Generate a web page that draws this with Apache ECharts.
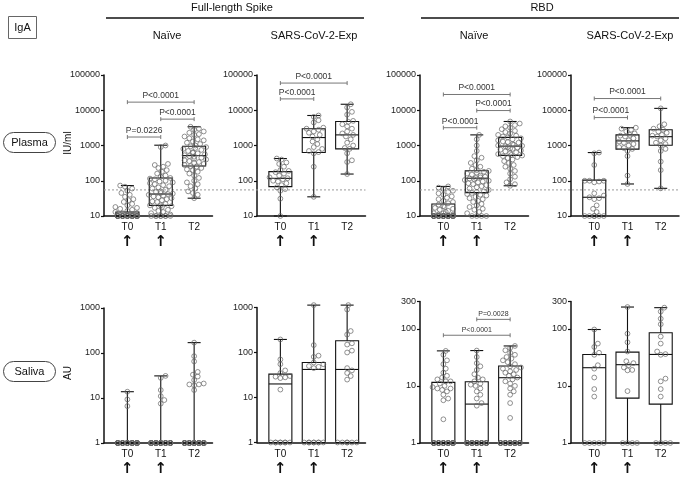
<!DOCTYPE html>
<html><head><meta charset="utf-8">
<script src="https://cdn.jsdelivr.net/npm/echarts@6/dist/echarts.min.js"></script>
<style>html,body{margin:0;padding:0;background:#fff}#c{width:682px;height:477px}</style>
</head><body><div id="c"></div>
<script>
const FONT = 'Liberation Sans, Arial, sans-serif';

// ---- labels ----
const timepoints = ['T0', 'T1', 'T2'];
const doseAt = [true, true, false];
const antigens = ['Full-length Spike', 'RBD'];
const cohorts = ['Naïve', 'SARS-CoV-2-Exp'];
const compartments = ['Plasma', 'Saliva'];
const units = ['IU/ml', 'AU'];
const isotype = 'IgA';
const plasmaCutoff = 55;

// ---- Plasma, Full-length Spike, Naive ----
const plSpikeNaiveT0 = [73,68,60,52,45,40,35,30,28,25,22,20,18,17,16,15,14,13,12,12,11,11,10,10,10,10,10,10,10,10,10,10,10,10,10,10,10,10,10,10,10,10,10,10,10,10,10,10,10,10,10,10];
const plSpikeNaiveT1 = [1000,900,300,280,250,230,200,180,160,140,130,120,115,110,100,95,90,85,80,75,70,65,60,55,50,48,45,43,42,40,38,36,34,32,30,28,26,25,22,20,20,19,18,17,15,14,13,12,11,10,10,10,10,10,10,10,10];
const plSpikeNaiveT2 = [3400,3000,2800,2500,2300,2100,2000,1800,1600,1500,1400,1300,1200,1100,1000,950,900,850,800,750,700,650,620,600,560,530,500,480,450,420,400,380,360,340,320,300,280,260,250,230,210,200,180,160,140,120,100,90,80,70,60,50,45,40,32];
const plSpikeNaiveBox = [[10,10,10,13,73],[10,20,42,120,1020],[32,263,516,950,3400]];
const plSpikeNaiveP = [[0,1,'P=0.0226'],[1,2,'P<0.0001'],[0,2,'P<0.0001']];

// ---- Plasma, Full-length Spike, Exp ----
const plSpikeExpT0 = [427,400,330,300,250,200,190,175,160,140,125,118,110,100,95,85,75,65,58,52,31,10];
const plSpikeExpT1 = [7100,6500,5200,4500,3200,3000,2800,2500,2300,2000,1800,1500,1300,1100,900,800,700,650,600,250,35];
const plSpikeExpT2 = [14800,12000,9000,7500,5000,4700,4000,3500,3000,2500,2200,2000,1800,1500,1200,1000,850,800,600,380,340,155];
const plSpikeExpBox = [[10,68,117,182,427],[35,630,1680,3000,7100],[155,800,2000,4800,14800]];
const plSpikeExpP = [[0,1,'P<0.0001'],[0,2,'P<0.0001']];

// ---- Plasma, RBD, Naive ----
const plRbdNaiveT0 = [69,64,58,52,48,44,40,36,33,30,27,25,23,21,19,18,17,16,15,14,13,12,12,11,11,10,10,10,10,10,10,10,10,10,10,10,10,10,10,10,10,10,10,10,10,10,10,10,10,10,10,10,10,10,10,10,10];
const plRbdNaiveT1 = [2000,1500,1000,700,500,450,380,320,280,250,220,200,190,180,170,160,150,140,130,125,120,115,110,105,100,95,90,85,80,75,70,65,60,55,50,48,45,42,40,38,35,32,30,27,25,22,20,18,16,15,13,12,10,10,10,10];
const plRbdNaiveT2 = [4800,4200,3800,3500,3200,2900,2600,2400,2200,2000,1900,1800,1700,1600,1500,1400,1300,1250,1200,1100,1050,1000,980,950,900,870,830,800,760,720,680,640,600,570,540,520,500,470,440,400,360,320,280,250,220,190,160,130,110,90,80,72];
const plRbdNaiveBox = [[10,10,10.5,22,69],[10,46,118,192,2000],[72,525,960,1700,4800]];
const plRbdNaiveP = [[0,1,'P<0.0001'],[1,2,'P<0.0001'],[0,2,'P<0.0001']];

// ---- Plasma, RBD, Exp ----
const plRbdExpT0 = [630,600,280,100,100,100,95,90,44,38,34,32,30,20,16,13,10,10,10,10,10,10];
const plRbdExpT1 = [3200,3000,2800,2500,2200,2000,1900,1800,1600,1400,1300,1200,1100,1000,900,850,800,700,500,140,81];
const plRbdExpT2 = [11300,4000,3500,3000,2800,2500,2300,2000,1900,1800,1600,1400,1200,1100,1000,800,700,350,200,61];
const plRbdExpBox = [[10,10,34,104,630],[81,790,1350,2000,3200],[61,1020,1780,2800,11300]];
const plRbdExpP = [[0,1,'P<0.0001'],[0,2,'P<0.0001']];

// ---- Saliva, Full-length Spike, Naive ----
const saSpikeNaiveT0 = [13.8,9.3,6.6,1,1,1,1,1,1,1,1,1,1,1,1,1,1,1,1,1,1,1,1,1,1,1,1,1,1,1,1,1,1,1,1,1,1,1,1,1,1,1,1];
const saSpikeNaiveT1 = [31,28,15,11,9,7.5,1,1,1,1,1,1,1,1,1,1,1,1,1,1,1,1,1,1,1,1,1,1,1,1,1,1,1,1,1,1,1,1,1,1,1,1,1,1,1,1];
const saSpikeNaiveT2 = [170,85,65,38,33,30,25,21,20,20,19,15,1,1,1,1,1,1,1,1,1,1,1,1,1,1,1,1,1,1,1,1,1,1,1,1,1,1,1,1,1,1,1,1,1,1,1,1,1,1,1,1];
const saSpikeNaiveBox = [[1,1,1,1,13.8],[1,1,1,1,31],[1,1,1,1,170]];
const saSpikeNaiveP = [];

// ---- Saliva, Full-length Spike, Exp ----
const saSpikeExpT0 = [195,70,55,40,35,30,29,28,27,15,1,1,1,1,1,1,1,1];
const saSpikeExpT1 = [1130,146,85,80,60,55,50,48,45,1,1,1,1,1,1,1,1];
const saSpikeExpT2 = [1130,900,300,250,160,150,110,100,45,40,35,30,25,1,1,1,1,1,1];
const saSpikeExpBox = [[1,1,20,33,195],[1,1,42,60,1130],[1,1,42,183,1130]];
const saSpikeExpP = [];

// ---- Saliva, RBD, Naive ----
const saRbdNaiveT0 = [41,35,28,24,20,17,15,14,13,12,12,11,10,9.5,9,9,8.5,8,7,6,5.6,2.6,1,1,1,1,1,1,1,1,1,1,1,1,1,1,1,1,1,1,1,1,1,1,1,1,1,1,1,1,1,1];
const saRbdNaiveT1 = [41.5,32,25,22,19,16,14,13,12,11,10.5,10,9,8,7,6,5,4.5,1,1,1,1,1,1,1,1,1,1,1,1,1,1,1,1,1,1,1,1,1,1,1,1,1,1,1,1,1,1];
const saRbdNaiveT2 = [50,46,42,38,35,32,30,28,26,24,22,21,20,19,18,17,16,15,14,13,12,11,10,9,8,7,5,2.75,1,1,1,1,1,1,1,1,1,1,1,1,1,1,1,1,1,1,1,1,1,1,1,1,1,1,1,1];
const saRbdNaiveBox = [[1,1,1,11.5,41],[1,1,4.8,11.8,41.5],[1,1,13.9,22.3,50]];
const saRbdNaiveP = [[1,2,'P=0.0028'],[0,2,'P<0.0001']];

// ---- Saliva, RBD, Exp ----
const saRbdExpT0 = [97,55,48,38,35,23,20,14,8.8,6.5,1,1,1,1,1];
const saRbdExpT1 = [240,82,58,40,27,25,23,21,19,18.7,8.1,1,1,1,1];
const saRbdExpT2 = [234,200,150,120,73,55,40,36,35,13.4,12,8.8,6.5,1,1,1,1];
const saRbdExpBox = [[1,1,20.8,35.5,97],[1,6.1,23.5,39,240],[1,4.8,35.5,85,234]];
const saRbdExpP = [];

// ---- panel wiring ----
const panelData = [
  {groups:[plSpikeNaiveT0, plSpikeNaiveT1, plSpikeNaiveT2], box:plSpikeNaiveBox, p:plSpikeNaiveP},
  {groups:[plSpikeExpT0, plSpikeExpT1, plSpikeExpT2], box:plSpikeExpBox, p:plSpikeExpP},
  {groups:[plRbdNaiveT0, plRbdNaiveT1, plRbdNaiveT2], box:plRbdNaiveBox, p:plRbdNaiveP},
  {groups:[plRbdExpT0, plRbdExpT1, plRbdExpT2], box:plRbdExpBox, p:plRbdExpP},
  {groups:[saSpikeNaiveT0, saSpikeNaiveT1, saSpikeNaiveT2], box:saSpikeNaiveBox, p:saSpikeNaiveP},
  {groups:[saSpikeExpT0, saSpikeExpT1, saSpikeExpT2], box:saSpikeExpBox, p:saSpikeExpP},
  {groups:[saRbdNaiveT0, saRbdNaiveT1, saRbdNaiveT2], box:saRbdNaiveBox, p:saRbdNaiveP},
  {groups:[saRbdExpT0, saRbdExpT1, saRbdExpT2], box:saRbdExpBox, p:saRbdExpP}
];

// ---- layout (positions / sizes) ----
const XMIN = -0.7, XMAX = 2.55, GW = 108.5;
const layout = [
  {left:104, top:75, height:141, ymin:10, ymax:100000, pLevels:[1740,5600,17000], pFont:8.5},
  {left:257, top:75, height:141, ymin:10, ymax:100000, pLevels:[21000,59000], pFont:8.5},
  {left:420, top:75, height:141, ymin:10, ymax:100000, pLevels:[3200,9800,28000], pFont:8.5},
  {left:571, top:75, height:141, ymin:10, ymax:100000, pLevels:[6200,21500], pFont:8.5},
  {left:104, top:308, height:135, ymin:1, ymax:1000, pLevels:[], pFont:8.5},
  {left:257, top:307.5, height:135, ymin:1, ymax:1000, pLevels:[], pFont:8.5},
  {left:420, top:301.5, height:141.5, ymin:1, ymax:300, pLevels:[146,77], pFont:7},
  {left:571, top:301.5, height:141.5, ymin:1, ymax:300, pLevels:[], pFont:7}
];

// deterministic beeswarm offsets (layout only)
function swarm(values, pxPerDecade, pxPerUnit, maxHalf) {
  const D = 4.6, step = 1.2;
  const placed = [];
  const out = new Array(values.length);
  const order = values.map((v, i) => i).sort((a, b) => values[a] - values[b]);
  const nSteps = Math.floor(maxHalf / step);
  for (const i of order) {
    const y = Math.log10(values[i]) * pxPerDecade;
    let best = 0, bestScore = Infinity;
    for (let k = 0; k <= 2 * nSteps; k++) {
      const off = (k % 2 ? 1 : -1) * Math.ceil(k / 2) * step;
      let c = 0;
      for (const p of placed) {
        const dx = p.x - off, dy = p.y - y;
        if (dx * dx + dy * dy < D * D) c++;
      }
      const score = c * 1000 + Math.abs(off);
      if (score < bestScore) { bestScore = score; best = off; }
      if (c === 0) break;
    }
    placed.push({x: best, y});
    out[i] = best / pxPerUnit;
  }
  return out;
}

const grids = [], xAxes = [], yAxes = [], series = [];
layout.forEach((L, pi) => {
  const pd = panelData[pi];
  grids.push({left: L.left, top: L.top, width: GW, height: L.height});
  xAxes.push({
    type: 'value', gridIndex: pi, min: XMIN, max: XMAX, interval: 0.05,
    axisLine: {show: true, onZero: false, lineStyle: {color: '#111', width: 1.5}},
    axisTick: {show: false}, splitLine: {show: false},
    axisLabel: {
      margin: 5, color: '#111', fontFamily: FONT, fontSize: 10,
      formatter: v => {
        const i = Math.round(v);
        if (Math.abs(v - i) > 1e-6 || i < 0 || i > 2) return '';
        return doseAt[i] ? '{t|' + timepoints[i] + '}\n{a|↑}' : '{t|' + timepoints[i] + '}';
      },
      rich: {
        t: {fontSize: 10, lineHeight: 13, fontFamily: FONT, color: '#111'},
        a: {fontSize: 15, lineHeight: 17, fontWeight: 'bold', fontFamily: 'DejaVu Sans', color: '#111'}
      }
    }
  });
  yAxes.push({
    type: 'log', logBase: 10, gridIndex: pi, min: L.ymin, max: L.ymax,
    axisLine: {show: true, onZero: false, lineStyle: {color: '#111', width: 1.5}},
    axisTick: {show: true, length: 3, lineStyle: {color: '#111', width: 1.2}},
    minorTick: {show: false}, splitLine: {show: false},
    axisLabel: {margin: 4, color: '#222', fontFamily: FONT, fontSize: 9, formatter: v => String(Math.round(v))}
  });
  const pxPerDecade = L.height / (Math.log10(L.ymax) - Math.log10(L.ymin));
  const pxPerUnit = GW / (XMAX - XMIN);
  // boxes
  series.push({
    type: 'custom', xAxisIndex: pi, yAxisIndex: pi, z: 2, silent: true,
    data: pd.box.map((b, i) => [i, b[0], b[1], b[2], b[3], b[4]]),
    encode: {x: 0, y: [1, 2, 3, 4, 5]},
    renderItem: (params, api) => {
      const x = api.value(0);
      const c = [1, 2, 3, 4, 5].map(d => api.coord([x, api.value(d)]));
      const cx = c[0][0], hw = 11.5, cw = 6.5;
      const st = {stroke: '#111', lineWidth: 1.1, fill: null};
      const ch = [
        {type: 'line', shape: {x1: cx, y1: c[0][1], x2: cx, y2: c[1][1]}, style: st},
        {type: 'line', shape: {x1: cx, y1: c[3][1], x2: cx, y2: c[4][1]}, style: st},
        {type: 'line', shape: {x1: cx - cw, y1: c[0][1], x2: cx + cw, y2: c[0][1]}, style: st},
        {type: 'line', shape: {x1: cx - cw, y1: c[4][1], x2: cx + cw, y2: c[4][1]}, style: st}
      ];
      if (c[1][1] - c[3][1] > 0.5) {
        ch.push({type: 'rect', shape: {x: cx - hw, y: c[3][1], width: 2 * hw, height: c[1][1] - c[3][1]},
                 style: {stroke: '#111', lineWidth: 1.1, fill: 'rgba(0,0,0,0)'}});
      }
      ch.push({type: 'line', shape: {x1: cx - hw, y1: c[2][1], x2: cx + hw, y2: c[2][1]}, style: st});
      return {type: 'group', children: ch};
    }
  });
  // points
  const pts = [];
  pd.groups.forEach((g, gi) => {
    const offs = swarm(g, pxPerDecade, pxPerUnit, 12);
    g.forEach((v, k) => pts.push([gi + offs[k], v]));
  });
  series.push({
    type: 'scatter', xAxisIndex: pi, yAxisIndex: pi, z: 3, silent: true, clip: false,
    symbol: 'circle', symbolSize: 4.8, data: pts,
    itemStyle: {color: 'rgba(255,255,255,0)', borderColor: '#666', borderWidth: 0.9}
  });
  // significance brackets
  if (pd.p.length) {
    series.push({
      type: 'custom', xAxisIndex: pi, yAxisIndex: pi, z: 4, silent: true,
      data: pd.p.map((q, k) => [q[0], q[1], L.pLevels[k]]),
      encode: {x: [0, 1], y: 2},
      renderItem: (params, api) => {
        const a = api.coord([api.value(0), api.value(2)]);
        const b = api.coord([api.value(1), api.value(2)]);
        const lab = pd.p[params.dataIndex][2];
        const st = {stroke: '#777', lineWidth: 1, fill: null};
        return {type: 'group', children: [
          {type: 'line', shape: {x1: a[0], y1: a[1], x2: b[0], y2: b[1]}, style: st},
          {type: 'line', shape: {x1: a[0], y1: a[1] - 2, x2: a[0], y2: a[1] + 2}, style: st},
          {type: 'line', shape: {x1: b[0], y1: b[1] - 2, x2: b[0], y2: b[1] + 2}, style: st},
          {type: 'text', style: {text: lab, x: (a[0] + b[0]) / 2, y: a[1] - 2,
            align: 'center', textAlign: 'center', verticalAlign: 'bottom', textVerticalAlign: 'bottom',
            fontSize: L.pFont, fontFamily: FONT, fill: '#333'}}
        ]};
      }
    });
  }
});

const chart = echarts.init(document.getElementById('c'));
chart.setOption({
  animation: false, backgroundColor: '#fff',
  grid: grids, xAxis: xAxes, yAxis: yAxes, series: series
});

// annotations
function txt(t, x, y, size, extra) {
  return Object.assign({type: 'text', z: 10, style: {text: t, x: x, y: y, align: 'center', textAlign: 'center',
    verticalAlign: 'middle', textVerticalAlign: 'middle', fontSize: size, fontFamily: FONT, fill: '#111'}}, extra || {});
}
function hline(x1, x2, y, w, color, dash) {
  return {type: 'line', z: 10, shape: {x1: x1, y1: y, x2: x2, y2: y},
    style: {stroke: color, lineWidth: w, lineDash: dash || null}};
}
const g = [];
g.push({type: 'rect', z: 10, shape: {x: 8.5, y: 16.5, width: 28, height: 22}, style: {fill: '#fff', stroke: '#666', lineWidth: 1}});
g.push(txt(isotype, 22.5, 27.5, 11));
g.push(txt(antigens[0], 232, 8, 11));
g.push(hline(106, 364, 18, 1.6, '#111'));
g.push(txt(antigens[1], 542, 8, 11));
g.push(hline(421, 679, 18, 1.6, '#111'));
g.push(txt(cohorts[0], 167, 36, 11));
g.push(txt(cohorts[1], 314, 36, 11));
g.push(txt(cohorts[0], 474, 36, 11));
g.push(txt(cohorts[1], 630, 36, 11));
g.push({type: 'rect', z: 10, shape: {x: 3.5, y: 132.5, width: 52, height: 20, r: 10}, style: {fill: '#fff', stroke: '#444', lineWidth: 1}});
g.push(txt(compartments[0], 29.5, 142.5, 11));
g.push({type: 'rect', z: 10, shape: {x: 3.5, y: 361.5, width: 52, height: 20, r: 10}, style: {fill: '#fff', stroke: '#444', lineWidth: 1}});
g.push(txt(compartments[1], 29.5, 371.5, 11));
g.push(Object.assign(txt(units[0], 0, 0, 10), {x: 68, y: 143, rotation: Math.PI / 2}));
g.push(Object.assign(txt(units[1], 0, 0, 10), {x: 68, y: 373, rotation: Math.PI / 2}));
// plasma cut-off dotted lines spanning each antigen pair
[[0, 1], [2, 3]].forEach(([a, b]) => {
  const y = chart.convertToPixel({yAxisIndex: a}, plasmaCutoff);
  g.push(Object.assign(hline(layout[a].left, layout[b].left + GW, y, 1, '#9a9a9a', [2, 2]), {z: 1}));
});
chart.setOption({graphic: {elements: g}});
</script></body></html>
